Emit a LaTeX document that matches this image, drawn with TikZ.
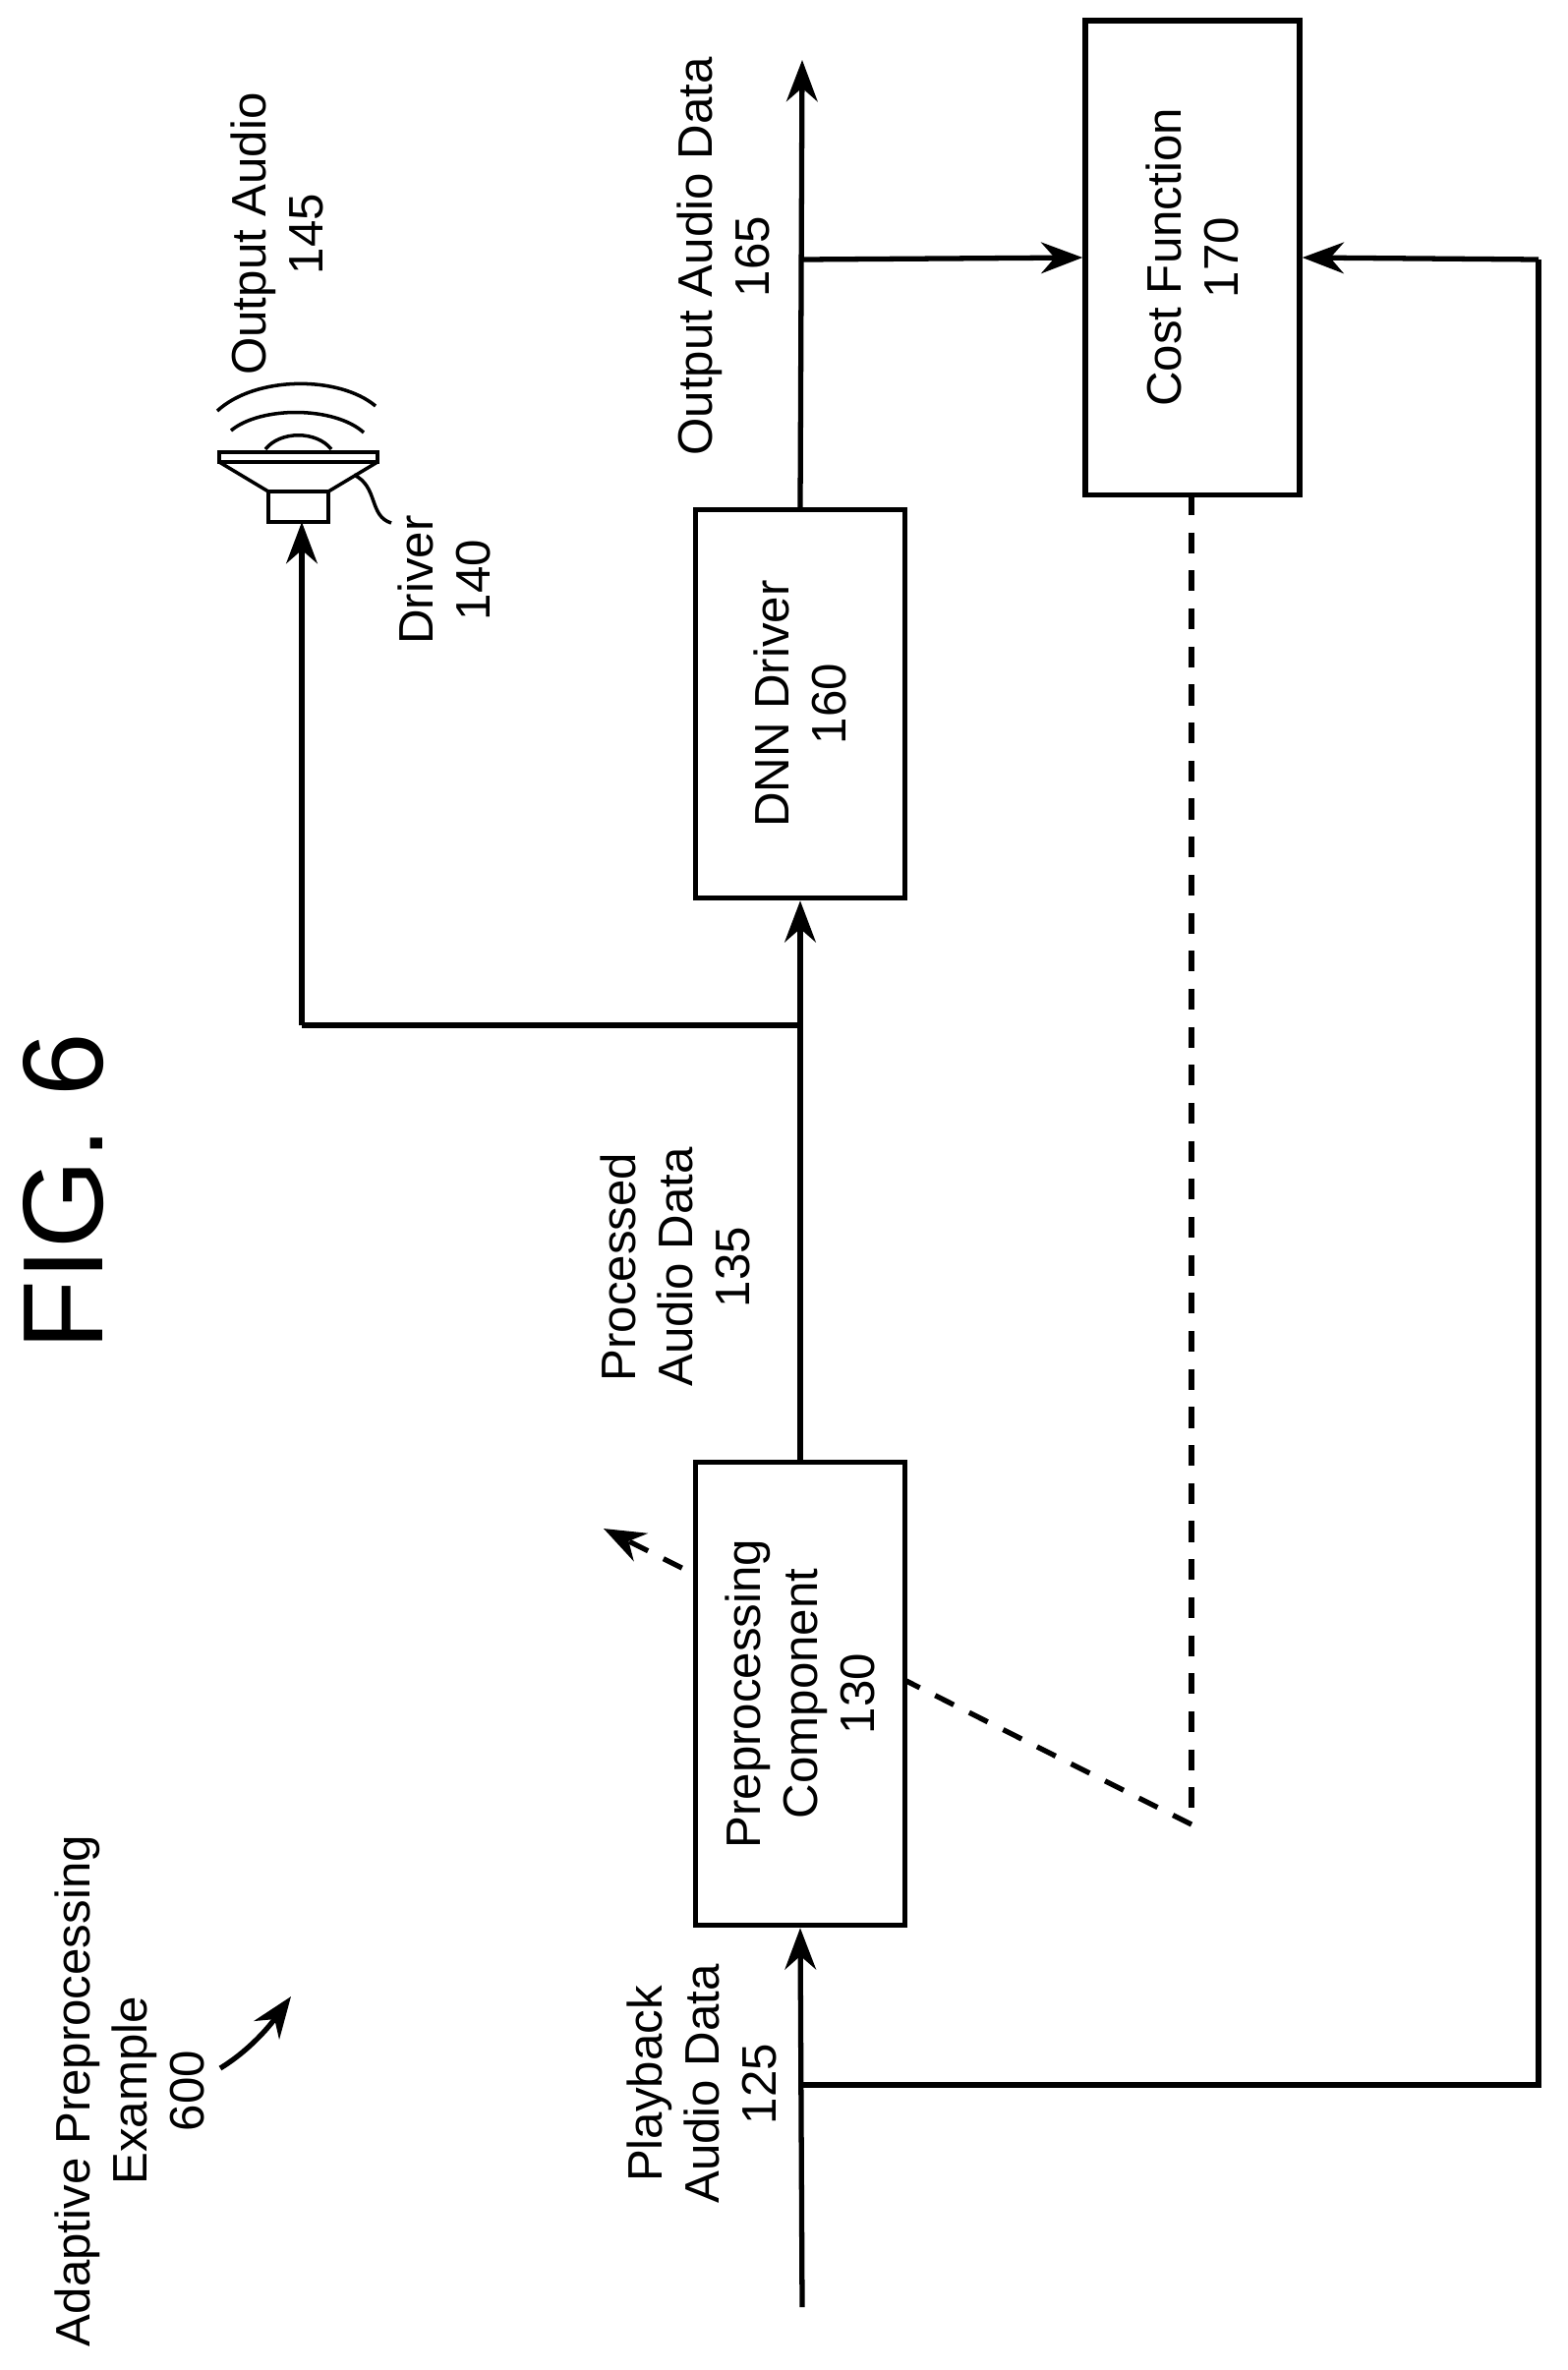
\documentclass[tikz,border=0pt]{standalone}
\usepackage{fontspec}
\setmainfont{Liberation Sans}
\usetikzlibrary{arrows, arrows.meta, positioning}
\tikzset{
    block/.style={rectangle, rotate=90, draw=black, fill=white, line width=1.5pt, text centered, align=center, font=\fontsize{14}{16.5}\selectfont},
    vlabel/.style={rotate=90, text centered, align=center, font=\fontsize{14}{16.5}\selectfont},
    arrow/.style={line width=1.5pt, -{Stealth[length=12pt, width=9pt]}},
    dashed_arrow/.style={line width=1.5pt, -{Stealth[length=12pt, width=9pt]}, dash pattern=on 6pt off 5pt},
    line/.style={line width=1.5pt},
    thin_line/.style={line width=1pt},
}
\begin{document}
\begin{tikzpicture}[x=0.01cm, y=-0.01cm]
      \useasboundingbox (0,0) rectangle (1595,2411);
      %%%%%%%%%%%%%%%%%%
      % WIRES / POINTS %
      %%%%%%%%%%%%%%%%%%
      \coordinate (in_start) at (816,2347);
      \coordinate (in_split) at (816,2121);
      \coordinate (fb_corner_a) at (1565,2121);
      \coordinate (fb_corner_b) at (1565,264);
      \coordinate (out_split) at (816,264);
      \coordinate (out_end) at (816,61);
      \coordinate (spk_split) at (816,1043);
      \coordinate (spk_corner) at (307,1043);
      \coordinate (spk_in) at (307,531);
      \coordinate (cost_low) at (1212,1856);
      \coordinate (adapt_tip) at (614,1555);

      % dashed adaptation path (hidden behind the box)
      \draw [line, dash pattern=on 6pt off 5pt] (1212,503) -- (cost_low);
      \draw [dashed_arrow] (cost_low) -- (adapt_tip);

      %%%%%%%%%%
      % BLOCKS %
      %%%%%%%%%%
      \node (pre) [block, minimum width=4.71cm, minimum height=2.13cm]
            at (814,1723) {Preprocessing\\Component\\130};
      \node (dnn) [block, minimum width=3.95cm, minimum height=2.13cm]
            at (814,716) {DNN Driver\\160};
      \node (cost) [block, minimum width=4.82cm, minimum height=2.18cm]
            at (1213,262) {Cost Function\\170};

      \draw [arrow] (in_start) -- (pre.west);
      \draw [arrow] (pre.east) -- (dnn.west);
      \draw [arrow] (dnn.east) -- (out_end);
      \draw [line] (in_split) -- (fb_corner_a) -- (fb_corner_b);
      \draw [arrow] (fb_corner_b) -- (cost.south);
      \draw [arrow] (out_split) -- (cost.north);
      \draw [line] (spk_split) -- (spk_corner);
      \draw [arrow] (spk_corner) -- (spk_in);

      %%%%%%%%%%%
      % SPEAKER %
      %%%%%%%%%%%
      \draw [thin_line] (273,500) rectangle (334,531);
      \draw [thin_line] (223,460) rectangle (384,470);
      \draw [thin_line] (223,470) -- (273,500) -- (334,500) -- (384,470);
      \draw [thin_line] (221,418) .. controls (260,382) and (345,382) .. (382,413);
      \draw [thin_line] (235,438) .. controls (265,413) and (340,413) .. (370,440);
      \draw [thin_line] (270,457) .. controls (285,438) and (322,438) .. (337,457);
      \draw [thin_line] (360,483) .. controls (385,495) and (375,525) .. (398,532);

      %%%%%%%%%%
      % LABELS %
      %%%%%%%%%%
      \node (lbl_out_audio) [vlabel] at (282,238) {Output Audio\\145};
      \node (lbl_driver) [vlabel] at (452,590) {Driver\\140};
      \node (lbl_out_data) [vlabel] at (736,261) {Output Audio Data\\165};
      \node (lbl_processed) [vlabel] at (687,1289) {Processed\\Audio Data\\135};
      \node (lbl_playback) [vlabel] at (714,2120) {Playback\\Audio Data\\125};
      \node (lbl_example) [vlabel] at (132,2127) {Adaptive Preprocessing\\Example\\600};
      \node (fig) [rotate=90, font=\fontsize{33}{36}\selectfont] at (65,1212) {FIG. 6};
      \draw [arrow] (224,2104) .. controls (255,2085) and (275,2060) .. (296,2031);
\end{tikzpicture}
\end{document}
